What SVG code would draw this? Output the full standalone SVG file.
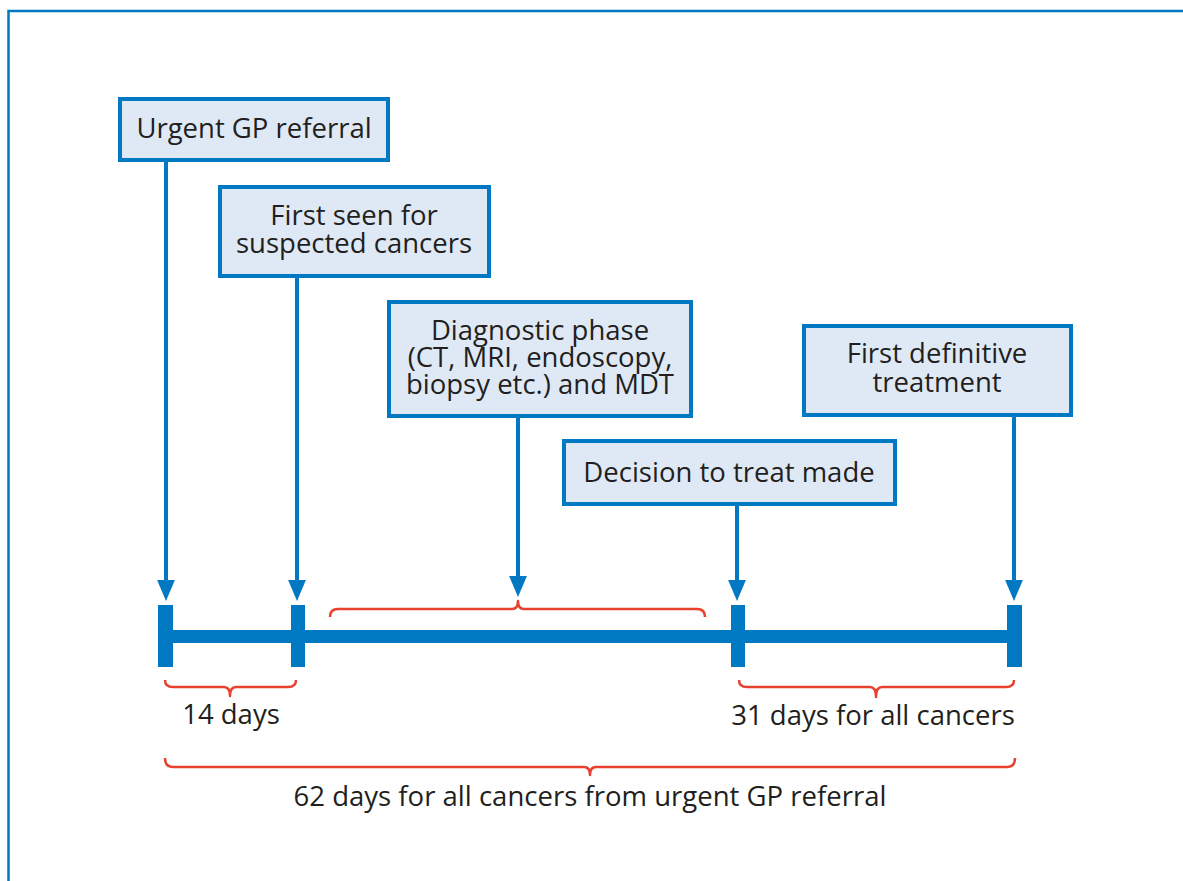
<svg xmlns="http://www.w3.org/2000/svg" width="1183" height="881" viewBox="0 0 1183 881">
<defs>
<style>
.box{fill:#dfe9f6;stroke:#0079c2;stroke-width:4}
.lbl{font-family:"Open Sans","Noto Sans","Liberation Sans",sans-serif;font-size:27.5px;fill:#231f20;text-anchor:middle}
.conn{stroke:#0079c2;stroke-width:4;fill:none}
.brace{stroke:#e8412f;stroke-width:2.5;fill:none;stroke-linejoin:round}
.tl{fill:#0079c2}
</style>
<marker id="arr" markerUnits="userSpaceOnUse" markerWidth="22" markerHeight="20" viewBox="0 -9 21 18" refX="0" refY="0" orient="auto">
<path d="M0,-8.5 L20,0 L0,8.5 Z" fill="#0079c2"/>
</marker>
</defs>
<rect width="1183" height="881" fill="#ffffff"/>
<path d="M8.5,881 V11 H1183" fill="none" stroke="#0079c2" stroke-width="2.5"/>

<g id="connectors">
<path class="conn" d="M166,162 V580" marker-end="url(#arr)"/>
<path class="conn" d="M297,278 V580" marker-end="url(#arr)"/>
<path class="conn" d="M518,418 V576" marker-end="url(#arr)"/>
<path class="conn" d="M737,506 V580" marker-end="url(#arr)"/>
<path class="conn" d="M1014,417 V580" marker-end="url(#arr)"/>
</g>

<g id="node-referral">
<rect class="box" x="120" y="99" width="268" height="61"/>
<text class="lbl" x="254" y="138">Urgent GP referral</text>
</g>
<g id="node-first-seen">
<rect class="box" x="220" y="187" width="269" height="89"/>
<text class="lbl" x="354" y="225">First seen for</text>
<text class="lbl" x="354" y="253">suspected cancers</text>
</g>
<g id="node-diagnostic">
<rect class="box" x="389" y="302" width="302" height="114"/>
<text class="lbl" x="540" y="340">Diagnostic phase</text>
<text class="lbl" x="540" y="367">(CT, MRI, endoscopy,</text>
<text class="lbl" x="540" y="394">biopsy etc.) and MDT</text>
</g>
<g id="node-decision">
<rect class="box" x="564" y="441" width="331" height="63"/>
<text class="lbl" x="729" y="482">Decision to treat made</text>
</g>
<g id="node-treatment">
<rect class="box" x="804" y="326" width="267" height="89"/>
<text class="lbl" x="937" y="363">First definitive</text>
<text class="lbl" x="937" y="392">treatment</text>
</g>

<g id="timeline">
<rect class="tl" x="158" y="630" width="864" height="13"/>
<rect class="tl" x="158" y="605" width="15" height="62"/>
<rect class="tl" x="291" y="605" width="14" height="62"/>
<rect class="tl" x="731" y="605" width="14" height="62"/>
<rect class="tl" x="1007" y="605" width="15" height="62"/>
</g>

<g id="braces">
<path class="brace" d="M165,680 Q165,687 173,687 H224 Q230,687 230,696 Q230,687 236,687 H288 Q296,687 296,680"/>
<path class="brace" d="M330,617 Q330,609 338,609 H512 Q518,609 518,601 Q518,609 524,609 H697 Q705,609 705,617"/>
<path class="brace" d="M739,680 Q739,687 747,687 H870 Q876,687 876,697 Q876,687 882,687 H1006 Q1014,687 1014,680"/>
<path class="brace" d="M165,758 Q165,767 173,767 H584 Q590,767 590,775 Q590,767 596,767 H1007 Q1015,767 1015,758"/>
</g>

<g id="labels">
<text class="lbl" x="231" y="724">14 days</text>
<text class="lbl" x="873" y="725">31 days for all cancers</text>
<text class="lbl" x="590" y="806" textLength="593" lengthAdjust="spacingAndGlyphs">62 days for all cancers from urgent GP referral</text>
</g>
</svg>
